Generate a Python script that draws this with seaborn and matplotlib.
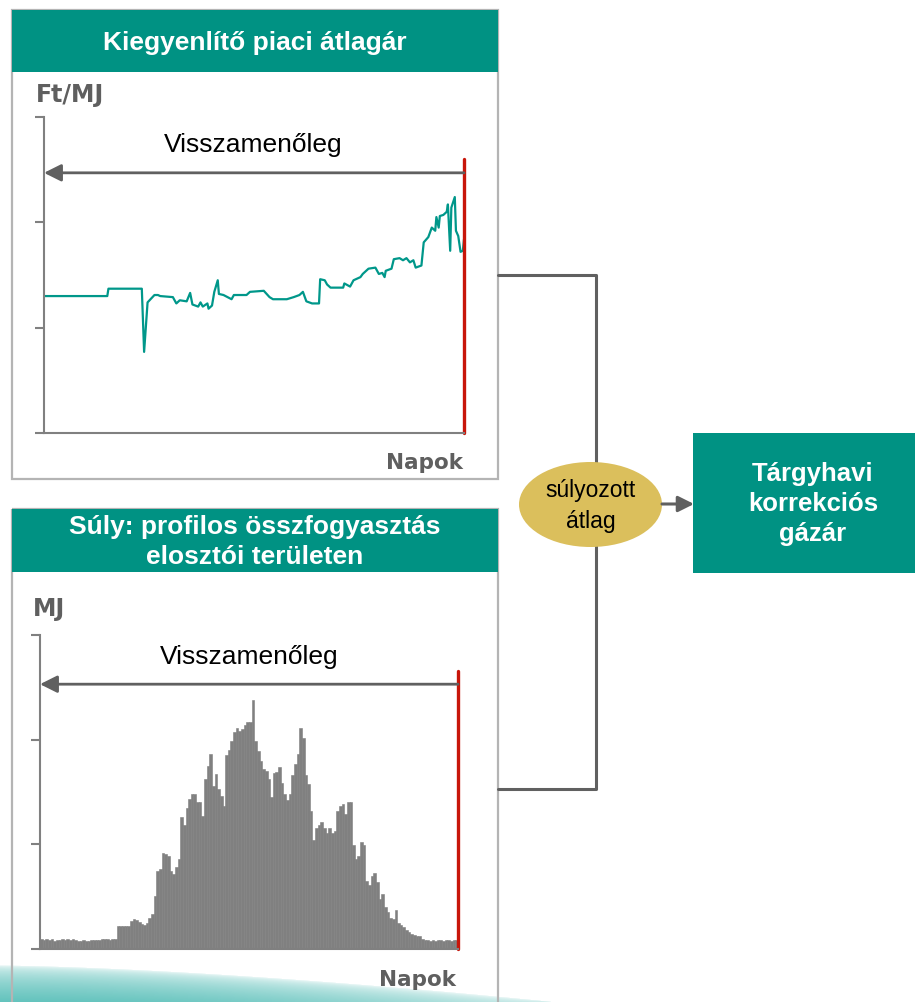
import numpy as np
import matplotlib
matplotlib.use('Agg')
import matplotlib.pyplot as plt
import seaborn as sns
from matplotlib.patches import Rectangle, Ellipse

# Kiegyenlítő piaci átlagár - vertices of the daily line (day, Ft/MJ, scale units)
price_days = [0, 55, 56, 85, 87, 90, 96, 99, 101, 112, 115, 118, 124, 127, 129,
              134, 136, 138, 142, 143, 146, 148, 151, 152, 156, 163, 165, 176, 179, 191,
              196, 199, 211, 217, 222, 225, 228, 233, 239, 240, 244, 246, 249, 260, 261,
              266, 269, 275, 277, 282, 288, 291, 294, 296, 297, 302, 304, 309, 312, 315,
              318, 321, 323, 328, 330, 334, 337, 340, 341, 343, 344, 347, 350, 351, 353,
              354, 357, 358, 360, 362, 364, 365]
price_vals = [1.30, 1.30, 1.37, 1.37, 0.77, 1.24, 1.31, 1.31, 1.30, 1.29, 1.23, 1.26, 1.25, 1.33, 1.22,
              1.20, 1.24, 1.20, 1.23, 1.18, 1.21, 1.34, 1.45, 1.32, 1.31, 1.27, 1.31, 1.31, 1.34, 1.35,
              1.29, 1.27, 1.27, 1.29, 1.31, 1.34, 1.25, 1.23, 1.23, 1.46, 1.45, 1.41, 1.38, 1.38, 1.42,
              1.39, 1.45, 1.48, 1.51, 1.56, 1.57, 1.51, 1.52, 1.48, 1.54, 1.56, 1.65, 1.66, 1.64, 1.66,
              1.62, 1.64, 1.57, 1.59, 1.81, 1.86, 1.95, 1.92, 2.05, 1.95, 2.06, 2.07, 2.10, 2.17, 1.73,
              2.14, 2.24, 1.92, 1.87, 1.72, 1.73, 1.84]

# Súly: profilos összfogyasztás (MJ, scale units), one bar per period
weights = [0.10, 0.09, 0.10, 0.09, 0.10, 0.08, 0.09, 0.09, 0.10, 0.09, 0.10, 0.09, 0.10, 0.09, 0.08,
           0.08, 0.09, 0.08, 0.08, 0.09, 0.09, 0.09, 0.09, 0.10, 0.10, 0.10, 0.09, 0.10, 0.10,
           0.22, 0.22, 0.22, 0.22, 0.22, 0.27, 0.29, 0.28, 0.26, 0.24, 0.23, 0.25, 0.30, 0.33,
           0.51, 0.75, 0.76, 0.92, 0.91, 0.89, 0.75, 0.72, 0.78, 0.86, 1.26, 1.18, 1.35, 1.43, 1.48,
           1.48, 1.40, 1.40, 1.27, 1.62, 1.75, 1.86, 1.56, 1.67, 1.53, 1.46, 1.37, 1.85, 1.90, 1.99,
           2.07, 2.11, 2.08, 2.10, 2.14, 2.17, 2.17, 2.38, 1.99, 1.89, 1.80, 1.72, 1.70, 1.62, 1.45,
           1.68, 1.69, 1.74, 1.59, 1.48, 1.42, 1.48, 1.66, 1.77, 1.86, 2.11, 2.02, 1.66, 1.58, 1.32,
           1.04, 1.16, 1.18, 1.21, 1.16, 1.11, 1.16, 1.11, 1.13, 1.32, 1.37, 1.39, 1.29, 1.40, 1.40,
           0.99, 0.86, 0.89, 1.02, 0.99, 0.65, 0.61, 0.70, 0.73, 0.64, 0.48, 0.53, 0.40, 0.35, 0.30,
           0.29, 0.37, 0.25, 0.23, 0.21, 0.18, 0.16, 0.14, 0.13, 0.12, 0.12, 0.10, 0.09,
           0.09, 0.08, 0.09, 0.08, 0.09, 0.09, 0.08, 0.09, 0.09, 0.08, 0.09, 0.09]
periods = list(range(len(weights)))

TEAL = '#009283'
LINE = '#00978a'
GREY = '#5f5f5f'
AXC = '#808080'
RED = '#c8160a'

sns.set_style('white')
plt.rcParams['font.family'] = ['Liberation Sans', 'DejaVu Sans']
plt.rcParams['text.color'] = 'black'

fig = plt.figure(figsize=(9.15, 10.03), dpi=100)

# background layer in pixel coordinates for boxes, connectors, labels
bg = fig.add_axes([0, 0, 1, 1], zorder=-1)
bg.set_xlim(0, 915)
bg.set_ylim(1003, 0)
bg.axis('off')

# soft teal swoosh at the bottom left
W, H = 915, 50
xx, yy = np.meshgrid(np.arange(W), np.linspace(953, 1003, H))
top = 966 + 32 * (xx / 500.0) ** 1.5
frac = np.clip((yy - top) / np.maximum(1003 - top, 1), 0, 1)
alpha = frac ** 0.45 * np.clip(1 - (xx / 640.0) ** 2, 0, 1)
img = np.zeros((H, W, 4))
img[..., 0] = 100 / 255
img[..., 1] = 196 / 255
img[..., 2] = 190 / 255
img[..., 3] = alpha
bg.imshow(img, extent=[0, W, 1003, 953], aspect='auto', zorder=0)

# panel frames
for y0, h in [(11, 469), (510, 520)]:
    bg.add_patch(Rectangle((12, y0), 486, h, facecolor='none', edgecolor='#b4b4b4', lw=1.6, zorder=1))
bg.add_patch(Rectangle((12, 11), 486, 62, facecolor=TEAL, edgecolor='none', zorder=2))
bg.add_patch(Rectangle((12, 510), 486, 63, facecolor=TEAL, edgecolor='none', zorder=2))
bg.text(255, 43, 'Kiegyenlítő piaci átlagár', color='white', fontsize=19, fontweight='bold',
        ha='center', va='center', zorder=3)
bg.text(255, 542, 'Súly: profilos összfogyasztás\nelosztói területen', color='white', fontsize=19,
        fontweight='bold', ha='center', va='center', linespacing=1.3, zorder=3)

bg.text(36, 95, 'Ft/MJ', color=GREY, fontsize=17, fontweight='bold', family='DejaVu Sans',
        ha='left', va='center')
bg.text(33, 609, 'MJ', color=GREY, fontsize=17, fontweight='bold', family='DejaVu Sans',
        ha='left', va='center')
bg.text(463, 463, 'Napok', color=GREY, fontsize=15.5, fontweight='bold', family='DejaVu Sans',
        ha='right', va='center')
bg.text(456, 980, 'Napok', color=GREY, fontsize=15.5, fontweight='bold', family='DejaVu Sans',
        ha='right', va='center')

# connector, ellipse and result box
bg.plot([498, 596, 596, 498], [276, 276, 790, 790], color='#606060', lw=2.2, zorder=1)
bg.add_patch(Ellipse((590.5, 505.5), 143, 85, facecolor='#dbbf5c', edgecolor='none', zorder=4))
bg.text(590.5, 506, 'súlyozott\nátlag', color='black', fontsize=16.5, ha='center', va='center',
        linespacing=1.4, zorder=5)
bg.annotate('', xy=(694, 505), xytext=(662, 505),
            arrowprops=dict(arrowstyle='-|>', color='#606060', lw=2.2, mutation_scale=24,
                            shrinkA=0, shrinkB=0), zorder=4)
bg.add_patch(Rectangle((693, 434), 230, 140, facecolor=TEAL, edgecolor='none', zorder=2))
bg.text(813, 504, 'Tárgyhavi\nkorrekciós\ngázár', color='white', fontsize=18.5, fontweight='bold',
        ha='center', va='center', linespacing=1.3, zorder=3)


def style_axis(ax):
    ax.set_facecolor('none')
    ax.set_ylim(0, 3)
    ax.set_yticks([0, 1, 2, 3])
    ax.tick_params(axis='y', length=6.5, width=1.5, color=AXC, labelleft=False, left=True)
    ax.tick_params(axis='x', length=0, labelbottom=False)
    sns.despine(ax=ax)
    for s in ['left', 'bottom']:
        ax.spines[s].set_color(AXC)
        ax.spines[s].set_linewidth(1.5)
    ax.set_xlabel('')
    ax.set_ylabel('')


# top chart: price line
ax1 = fig.add_axes([44 / 915, 1 - 434 / 1003, 420 / 915, 316 / 1003])
sns.lineplot(x=price_days, y=price_vals, ax=ax1, color=LINE, linewidth=1.6)
ax1.set_xlim(0, 365)
style_axis(ax1)
ax1.axvline(365, ymin=0, ymax=2.60 / 3, color=RED, lw=2.4, clip_on=False)
ax1.annotate('', xy=(0, 2.47), xytext=(365, 2.47),
             arrowprops=dict(arrowstyle='-|>', color='#606060', lw=2, mutation_scale=26,
                             shrinkA=0, shrinkB=0))
ax1.text(182, 2.74, 'Visszamenőleg', color='black', fontsize=19, ha='center', va='center')

# bottom chart: consumption bars
ax2 = fig.add_axes([40 / 915, 1 - 950 / 1003, 418 / 915, 314 / 1003])
sns.barplot(x=periods, y=weights, ax=ax2, color='#808080', saturation=1, width=1,
            edgecolor='#808080', linewidth=0.4)
n = len(weights)
ax2.set_xlim(-0.5, n - 0.5)
style_axis(ax2)
ax2.axvline(n - 0.5, ymin=0, ymax=2.66 / 3, color=RED, lw=2.4, clip_on=False)
ax2.annotate('', xy=(-0.5, 2.53), xytext=(n - 0.5, 2.53),
             arrowprops=dict(arrowstyle='-|>', color='#606060', lw=2, mutation_scale=26,
                             shrinkA=0, shrinkB=0))
ax2.text((n - 1) / 2, 2.80, 'Visszamenőleg', color='black', fontsize=19, ha='center', va='center')

fig.savefig('out.png', dpi=100)
